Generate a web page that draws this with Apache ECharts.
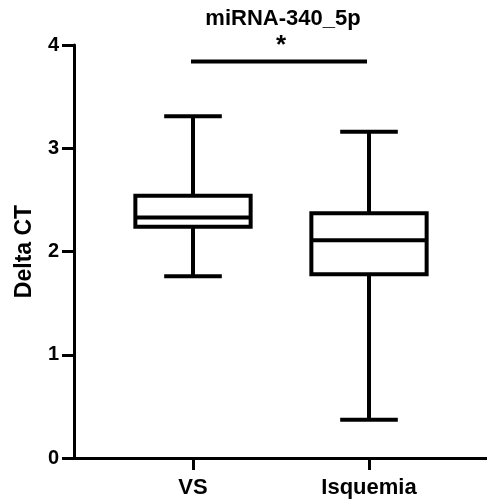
<!DOCTYPE html>
<html>
<head>
<meta charset="utf-8">
<script src="https://cdn.jsdelivr.net/npm/echarts@6/dist/echarts.min.js"></script>
<style>
html,body{margin:0;padding:0;background:#fff;}
#chart{width:487px;height:504px;}
</style>
</head>
<body>
<div id="chart"></div>
<script>
// ---- data ----
const categories = ['VS', 'Isquemia'];
// [min, Q1, median, Q3, max]
const vsStats = [1.76, 2.24, 2.33, 2.54, 3.31];
const isquemiaStats = [0.37, 1.78, 2.11, 2.37, 3.16];
const yTicks = [0, 1, 2, 3, 4];
const sigBarY = 3.84;
const sigLabel = '*';
const chartTitle = 'miRNA-340_5p';
const yAxisTitle = 'Delta CT';

const FONT = 'Arial, "Liberation Sans", sans-serif';
const boxData = [
  [0].concat(vsStats),
  [1].concat(isquemiaStats)
];

function renderBox(params, api) {
  const i = api.value(0);
  const lo = api.coord([i, api.value(1)]);
  const q1 = api.coord([i, api.value(2)]);
  const med = api.coord([i, api.value(3)]);
  const q3 = api.coord([i, api.value(4)]);
  const hi = api.coord([i, api.value(5)]);
  const bw = api.size([1, 0])[0] * 0.655;
  const cw = bw / 2;
  const x = lo[0];
  const ls = {stroke: '#000', lineWidth: 4, fill: null};
  return {
    type: 'group',
    children: [
      {type: 'line', shape: {x1: x, y1: hi[1], x2: x, y2: q3[1]}, style: ls},
      {type: 'line', shape: {x1: x, y1: q1[1], x2: x, y2: lo[1]}, style: ls},
      {type: 'line', shape: {x1: x - cw / 2, y1: hi[1], x2: x + cw / 2, y2: hi[1]}, style: ls},
      {type: 'line', shape: {x1: x - cw / 2, y1: lo[1], x2: x + cw / 2, y2: lo[1]}, style: ls},
      {type: 'rect', shape: {x: x - bw / 2, y: q3[1], width: bw, height: q1[1] - q3[1]},
        style: {stroke: '#000', lineWidth: 4, fill: '#fff'}},
      {type: 'line', shape: {x1: x - bw / 2, y1: med[1], x2: x + bw / 2, y2: med[1]}, style: ls}
    ]
  };
}

function renderSig(params, api) {
  const a = api.coord([api.value(0), api.value(2)]);
  const b = api.coord([api.value(1), api.value(2)]);
  return {
    type: 'group',
    children: [
      {type: 'line', shape: {x1: a[0] - 2, y1: a[1], x2: b[0] - 2, y2: b[1]},
        style: {stroke: '#000', lineWidth: 4}},
      {type: 'text', x: (a[0] + b[0]) / 2, y: a[1] - 16,
        style: {text: sigLabel, font: 'bold 26px ' + FONT, fill: '#000',
          align: 'center', verticalAlign: 'middle'}}
    ]
  };
}

const chart = echarts.init(document.getElementById('chart'), null, {renderer: 'canvas'});
chart.setOption({
  animation: false,
  backgroundColor: '#fff',
  graphic: [{
    type: 'text', x: 283, y: 19,
    style: {text: chartTitle, font: 'bold 22px ' + FONT, fill: '#000',
      align: 'center', verticalAlign: 'middle'}
  }],
  grid: [
    {left: 74, right: 0, top: 45, bottom: 46},
    {left: 105, right: 30, top: 45, bottom: 46}
  ],
  xAxis: [
    {gridIndex: 0, type: 'value', min: 0, max: 1,
      axisLine: {show: true, onZero: false, lineStyle: {color: '#000', width: 3}},
      axisTick: {show: false}, axisLabel: {show: false}, splitLine: {show: false}},
    {gridIndex: 1, type: 'category', data: categories,
      axisLine: {show: false},
      axisTick: {show: true, alignWithLabel: true, length: 12, lineStyle: {color: '#000', width: 3}},
      axisLabel: {color: '#000', fontFamily: FONT, fontWeight: 'bold', fontSize: 22, margin: 19}}
  ],
  yAxis: [
    {gridIndex: 0, type: 'value', min: yTicks[0], max: yTicks[yTicks.length - 1], interval: 1,
      name: yAxisTitle, nameLocation: 'middle', nameGap: 38, nameRotate: 90,
      nameTextStyle: {color: '#000', fontFamily: FONT, fontWeight: 'bold', fontSize: 23},
      axisLine: {show: true, lineStyle: {color: '#000', width: 3}},
      axisTick: {show: true, length: 12, lineStyle: {color: '#000', width: 3}},
      axisLabel: {color: '#000', fontFamily: FONT, fontWeight: 'bold', fontSize: 20, margin: 15},
      splitLine: {show: false}},
    {gridIndex: 1, type: 'value', min: yTicks[0], max: yTicks[yTicks.length - 1], interval: 1, show: false}
  ],
  series: [
    {type: 'custom', xAxisIndex: 1, yAxisIndex: 1, data: boxData, renderItem: renderBox,
      encode: {x: 0, y: [1, 2, 3, 4, 5]}, clip: false},
    {type: 'custom', xAxisIndex: 1, yAxisIndex: 1, data: [[0, 1, sigBarY]], renderItem: renderSig,
      encode: {x: [0, 1], y: 2}, clip: false}
  ]
});
</script>
</body>
</html>
